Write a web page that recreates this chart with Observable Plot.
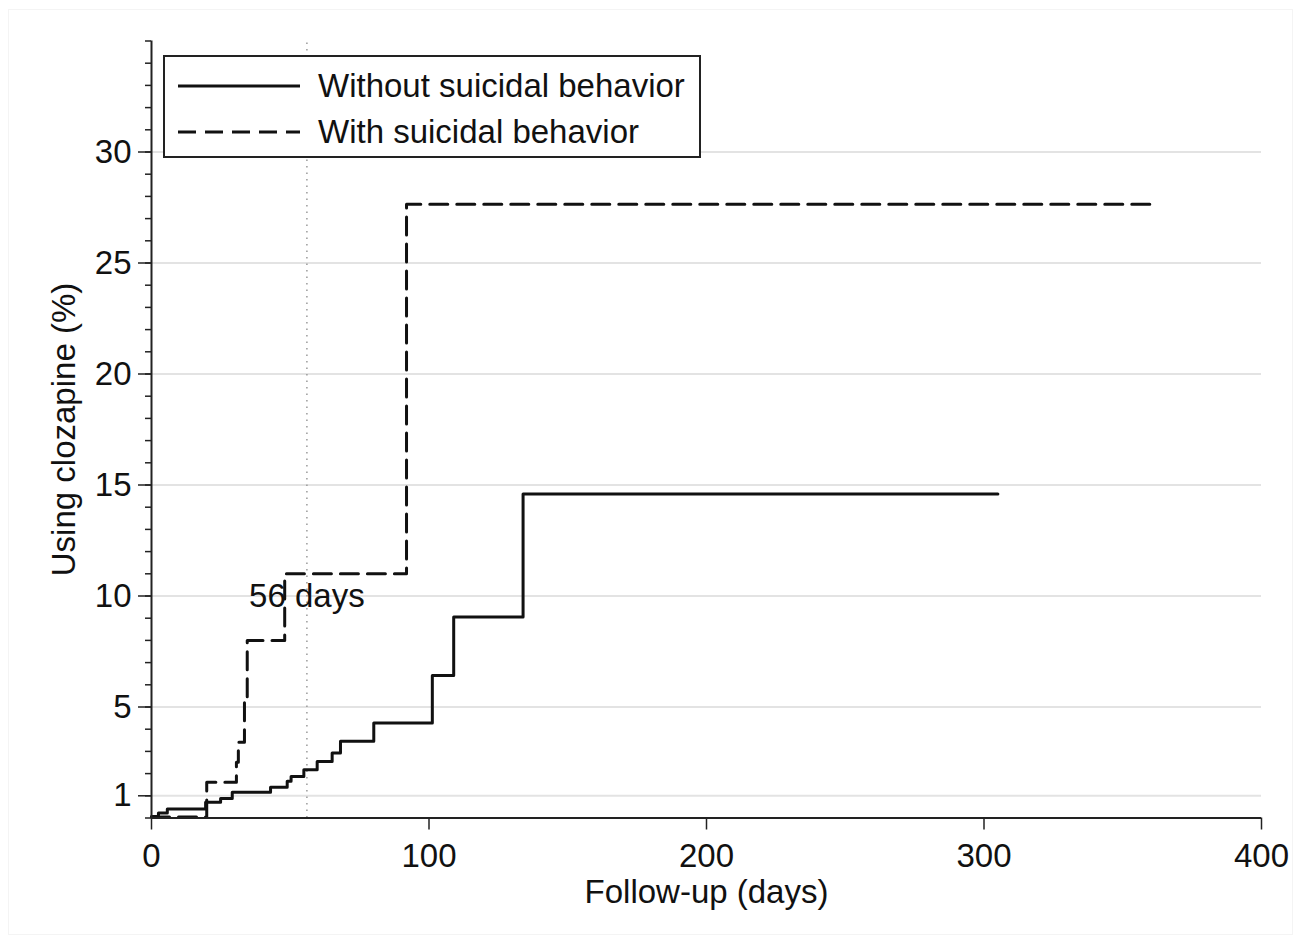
<!DOCTYPE html>
<html>
<head>
<meta charset="utf-8">
<script src="https://cdn.jsdelivr.net/npm/d3@7"></script>
<script src="https://cdn.jsdelivr.net/npm/@observablehq/plot@0.6"></script>
<style>
  html, body { margin: 0; padding: 0; background: #fff; }
  #wrap { position: relative; width: 1296px; height: 939px; font-family: "Liberation Sans", Arial, sans-serif; color: #111; }
  #wrap > svg { position: absolute; left: 0; top: 0; }
  #frame { position: absolute; left: 8px; top: 9px; width: 1285px; height: 926px; border: 1px solid #f4f4f4; box-sizing: border-box; pointer-events: none; }
  #legend { position: absolute; left: 163px; top: 55px; width: 538px; height: 103px; border: 2px solid #222; box-sizing: border-box; background: #fff; }
  #legend .row { position: absolute; left: 0; height: 40px; width: 100%; }
  #legend .row svg { position: absolute; left: 13px; top: 10px; }
  #legend .row span { position: absolute; left: 153px; top: 0; line-height: 40px; font-size: 33px; white-space: nowrap; }
</style>
</head>
<body>
<div id="wrap">
  <div id="frame"></div>
</div>
<script>
// ---- data ----
const solidDays = [0, 2.5, 5.7, 19.5, 24.9, 29.1, 42.9, 48.9, 50.3, 54.9, 59.7, 65.1, 68.1, 80.1, 101.2, 108.9, 133.9, 305];
const solidPct  = [0.07, 0.22, 0.41, 0.71, 0.88, 1.16, 1.39, 1.66, 1.87, 2.17, 2.55, 2.93, 3.46, 4.28, 6.42, 9.05, 14.6, 14.6];
const dashedDays = [0, 19.9, 30.6, 31.3, 33.5, 34.5, 48.0, 91.9, 360];
const dashedPct  = [0.05, 1.61, 2.51, 3.41, 5.44, 8.0, 11.0, 27.65, 27.65];
const seriesNames = ["Without suicidal behavior", "With suicidal behavior"];
const yTicks = [1, 5, 10, 15, 20, 25, 30];
const yMinorTicks = d3.range(0, 36);
const xTicks = [0, 100, 200, 300, 400];
const markerDay = 56;
const markerLabel = "56 days";
const markerLabelY = 10;
const xLabel = "Follow-up (days)";
const yLabel = "Using clozapine (%)";

const solid = solidDays.map((d, i) => ({day: d, pct: solidPct[i]}));
const dashed = dashedDays.map((d, i) => ({day: d, pct: dashedPct[i]}));

const font = "'Liberation Sans', Arial, sans-serif";
const ink = "#111";
const fs = 33;

const chart = Plot.plot({
  width: 1296,
  height: 939,
  marginLeft: 151,
  marginRight: 35,
  marginTop: 40.5,
  marginBottom: 121.5,
  style: {fontFamily: font, fontSize: fs + "px", color: ink, background: "transparent", overflow: "visible"},
  x: {domain: [0, 400]},
  y: {domain: [0, 35]},
  marks: [
    Plot.ruleY(yTicks, {stroke: "#e3e3e3", strokeWidth: 2}),
    Plot.ruleX([markerDay], {y1: 0, y2: 35, stroke: "#9a9a9a", strokeWidth: 1.5, strokeDasharray: "1.5,5"}),
    Plot.line(dashed, {x: "day", y: "pct", curve: "step-after", stroke: ink, strokeWidth: 3, strokeDasharray: "18,9"}),
    Plot.line(solid, {x: "day", y: "pct", curve: "step-after", stroke: ink, strokeWidth: 3}),
    Plot.text([markerLabel], {x: markerDay, y: markerLabelY, text: d => d, fontSize: fs, fill: ink, textAnchor: "middle", lineAnchor: "middle"}),
    Plot.ruleX([0], {y1: 0, y2: 35, stroke: "#222", strokeWidth: 2}),
    Plot.ruleY([0], {stroke: "#222", strokeWidth: 2}),
    Plot.axisY(yMinorTicks, {tickSize: 6, tickFormat: () => "", label: null, stroke: "#222", strokeWidth: 1.5}),
    Plot.axisY(yTicks, {tickSize: 13, tickPadding: 7, fontSize: fs, fill: ink, stroke: "#222", strokeWidth: 1.5,
      label: yLabel, labelAnchor: "center", labelOffset: 100, labelArrow: "none"}),
    Plot.axisX(xTicks, {tickSize: 12, tickPadding: 14, fontSize: fs, fill: ink, stroke: "#222", strokeWidth: 1.5,
      label: xLabel, labelAnchor: "center", labelOffset: 85, labelArrow: "none"})
  ]
});

const wrap = document.getElementById("wrap");
wrap.insertBefore(chart, wrap.firstChild);

// legend
const legend = document.createElement("div");
legend.id = "legend";
const rowsTop = [9, 55];
seriesNames.forEach((name, i) => {
  const row = document.createElement("div");
  row.className = "row";
  row.style.top = rowsTop[i] + "px";
  const dash = i === 1 ? ' stroke-dasharray="18,9"' : "";
  row.innerHTML = `<svg width="122" height="20"><line x1="0" y1="10" x2="122" y2="10" stroke="${ink}" stroke-width="3"${dash}/></svg><span>${name}</span>`;
  legend.appendChild(row);
});
wrap.appendChild(legend);
</script>
</body>
</html>
